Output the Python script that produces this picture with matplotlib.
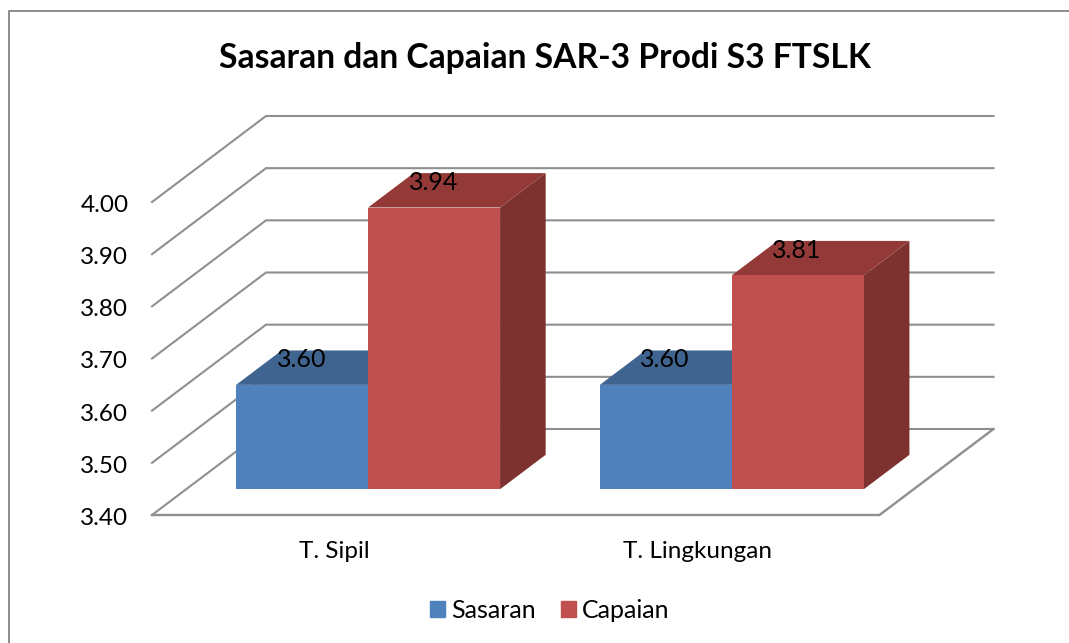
import matplotlib
matplotlib.use("Agg")
import matplotlib.pyplot as plt
from matplotlib.lines import Line2D
from matplotlib.patches import Patch
from matplotlib.transforms import ScaledTranslation

plt.rcParams['font.family'] = ['Lato', 'DejaVu Sans']

categories = ["T. Sipil", "T. Lingkungan"]
sasaran = [3.60, 3.60]
capaian = [3.94, 3.81]
y_ticks = [3.40, 3.50, 3.60, 3.70, 3.80, 3.90, 4.00]

W, H = 1069, 643
fig = plt.figure(figsize=(W / 100, H / 100), dpi=100)
ax = fig.add_axes([152 / W, 1 - 515 / H, 727.5 / W, 313 / H])
ax.patch.set_alpha(0)
ax.set_xlim(0, 2)
ax.set_ylim(3.40, 4.00)

# fake 3d: depth runs up and to the right of the front plane
DEPTH_X = 114 / 363.75
DEPTH_Y = 86 / 521.67
NEAR, FAR = 0.30, 0.70
BAR_W = 132 / 363.75
GRID = "#8f8f8f"


def shift(x, y, d):
    return x + d * DEPTH_X, y + d * DEPTH_Y


# walls and floor
for t in y_ticks:
    bx, by = shift(0, t, 1)
    ex, _ = shift(2, t, 1)
    ax.plot([0, bx, ex], [t, by, by], color=GRID, lw=1.5, zorder=1, clip_on=False,
            solid_joinstyle="miter")
fx, fy = shift(2, y_ticks[0], 1)
ax.plot([0, 2, fx], [y_ticks[0], y_ticks[0], fy], color=GRID, lw=1.7, zorder=1, clip_on=False,
        solid_joinstyle="miter")


def draw_bar(x0, value, front, top, side, z):
    x1 = x0 + BAR_W
    base = y_ticks[0]
    lx, by = shift(x0, base, NEAR)
    rx, _ = shift(x1, base, NEAR)
    _, ty = shift(x0, value, NEAR)
    lx2, by2 = shift(x0, base, FAR)
    rx2, _ = shift(x1, base, FAR)
    _, ty2 = shift(x0, value, FAR)
    ax.fill([rx, rx2, rx2, rx], [by, by2, ty2, ty], color=side, lw=0, zorder=z, clip_on=False)
    ax.fill([lx, rx, rx2, lx2], [ty, ty, ty2, ty2], color=top, lw=0, zorder=z, clip_on=False)
    ax.bar(lx, ty - by, width=rx - lx, bottom=by, align="edge", color=front, lw=0,
           zorder=z + 0.5, clip_on=False)
    ax.annotate(f"{value:.2f}", ((lx + rx) / 2, ty), xytext=(-0.5, 18), textcoords="offset points",
                ha="center", va="center", fontsize=18, color="black", zorder=10,
                annotation_clip=False)


for i in range(len(categories)):
    draw_bar(i + 0.5 - BAR_W, sasaran[i], "#4F81BD", "#3F648F", "#3A5F8B", 3 + i * 2)
    draw_bar(i + 0.5, capaian[i], "#C0504D", "#933A38", "#7D3230", 4 + i * 2)

ax.set_yticks(y_ticks)
ax.set_yticklabels([f"{t:.2f}" for t in y_ticks], fontsize=17.5, va="center_baseline")
ax.set_xticks([0.5, 1.5])
ax.set_xticklabels(categories, fontsize=17.5)
ax.tick_params(axis="both", length=0)
ax.tick_params(axis="y", pad=17)
ax.tick_params(axis="x", pad=19)
for s in ax.spines.values():
    s.set_visible(False)

# nudge the y labels down a little
nudge = ScaledTranslation(0, -1.5 / 100, fig.dpi_scale_trans)
for lab in ax.get_yticklabels():
    lab.set_transform(lab.get_transform() + nudge)

fig.text(545 / W, 1 - 58 / H, "Sasaran dan Capaian SAR-3 Prodi S3 FTSLK", ha="center",
         va="center", fontsize=24.2, fontweight="bold", color="black")

# chart frame, runs off the right and bottom of the picture
fig.add_artist(Line2D([9 / W, 9 / W, 1], [0, 1 - 11 / H, 1 - 11 / H], color="#8c8c8c", lw=1.4))

handles = [Patch(color="#4F81BD", label="Sasaran"), Patch(color="#C0504D", label="Capaian")]
fig.legend(handles=handles, loc="center", bbox_to_anchor=(549.5 / W, 1 - 610 / H), ncol=2,
           frameon=False, fontsize=18, handlelength=0.6, handleheight=0.6,
           handletextpad=0.25, columnspacing=1.0)

fig.savefig("out.png", dpi=100)
